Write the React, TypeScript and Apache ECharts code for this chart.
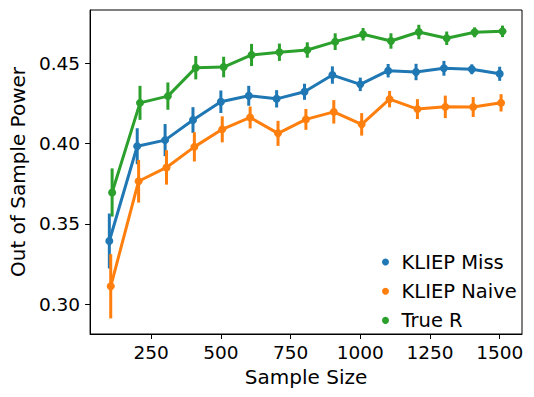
import React, { useEffect, useRef } from "react";
import * as echarts from "echarts";

const sampleSizes = [100, 200, 300, 400, 500, 600, 700, 800, 900, 1000, 1100, 1200, 1300, 1400, 1500];

const missMean = [0.3394, 0.3984, 0.4022, 0.4147, 0.4261, 0.4298, 0.4279, 0.4323, 0.4427, 0.4369, 0.4454, 0.4446, 0.4469, 0.4463, 0.4435];
const missErr = [0.0171, 0.0112, 0.0100, 0.0080, 0.0070, 0.0062, 0.0054, 0.0050, 0.0054, 0.0042, 0.0042, 0.0051, 0.0046, 0.0031, 0.0044];

const naiveMean = [0.3112, 0.3766, 0.3852, 0.3980, 0.4089, 0.4163, 0.4064, 0.4151, 0.4198, 0.4120, 0.4277, 0.4215, 0.4229, 0.4228, 0.4254];
const naiveErr = [0.0200, 0.0133, 0.0107, 0.0091, 0.0081, 0.0068, 0.0078, 0.0065, 0.0073, 0.0070, 0.0051, 0.0062, 0.0070, 0.0062, 0.0054];

const trueMean = [0.3696, 0.4254, 0.4296, 0.4473, 0.4477, 0.4552, 0.4569, 0.4583, 0.4635, 0.4681, 0.4639, 0.4695, 0.4656, 0.4693, 0.4699];
const trueErr = [0.0150, 0.0106, 0.0085, 0.0073, 0.0064, 0.0069, 0.0054, 0.0048, 0.0052, 0.0039, 0.0048, 0.0045, 0.0042, 0.0031, 0.0036];

const xTicks = [250, 500, 750, 1000, 1250, 1500];
const yTicks = [0.3, 0.35, 0.4, 0.45];

const groups = [
  { name: "KLIEP Miss", mean: missMean, err: missErr, color: "#1f77b4", dodge: 0 },
  { name: "KLIEP Naive", mean: naiveMean, err: naiveErr, color: "#ff7f0e", dodge: 5 },
  { name: "True R", mean: trueMean, err: trueErr, color: "#2ca02c", dodge: 10 },
];

const FONT = "DejaVu Sans";

export default function App() {
  const ref = useRef<HTMLDivElement>(null);
  useEffect(() => {
    if (!ref.current) return;
    const chart = echarts.init(ref.current, undefined, { renderer: "svg" });
    const series: any[] = [];
    groups.forEach((g, gi) => {
      series.push({
        type: "custom",
        name: g.name + " err",
        z: 2 + gi * 2,
        silent: true,
        data: sampleSizes.map((s, i) => [s + g.dodge, g.mean[i] - g.err[i], g.mean[i] + g.err[i]]),
        encode: { x: 0, y: [1, 2] },
        renderItem: (params: any, api: any) => {
          const p1 = api.coord([api.value(0), api.value(1)]);
          const p2 = api.coord([api.value(0), api.value(2)]);
          return {
            type: "line",
            shape: { x1: p1[0], y1: p1[1], x2: p2[0], y2: p2[1] },
            style: { stroke: g.color, lineWidth: 3 },
          };
        },
      });
      series.push({
        type: "line",
        name: g.name,
        z: 3 + gi * 2,
        data: sampleSizes.map((s, i) => [s + g.dodge, g.mean[i]]),
        symbol: "circle",
        symbolSize: 8,
        showSymbol: true,
        lineStyle: { color: g.color, width: 3 },
        itemStyle: { color: g.color },
      });
    });
    chart.setOption({
      animation: false,
      grid: {
        left: 87,
        right: 12,
        top: 10,
        bottom: 63,
        show: true,
        borderColor: "#000",
        borderWidth: 1,
        backgroundColor: "transparent",
      },
      legend: {
        data: groups.map((g) => g.name),
        orient: "vertical",
        left: 377,
        top: 247,
        icon: "circle",
        itemWidth: 22,
        itemHeight: 7,
        itemGap: 9.2,
        textStyle: { fontFamily: FONT, fontSize: 19.5, color: "#000", lineHeight: 19.5 },
      },
      xAxis: {
        type: "value",
        min: 31,
        max: 1580,
        name: "Sample Size",
        nameLocation: "middle",
        nameGap: 25,
        nameTextStyle: { fontFamily: FONT, fontSize: 20, color: "#000" },
        axisLine: { show: true, lineStyle: { color: "#000", width: 1 } },
        axisTick: { show: true, length: 5, lineStyle: { color: "#000" }, customValues: xTicks },
        axisLabel: {
          fontFamily: FONT,
          fontSize: 18.5,
          color: "#000",
          margin: 9,
          customValues: xTicks,
          formatter: (v: number) => String(v),
        },
        splitLine: { show: false },
      },
      yAxis: {
        type: "value",
        min: 0.2815,
        max: 0.4832,
        name: "Out of Sample Power",
        nameLocation: "middle",
        nameRotate: 90,
        nameGap: 59,
        nameTextStyle: { fontFamily: FONT, fontSize: 20, color: "#000" },
        axisLine: { show: true, lineStyle: { color: "#000", width: 1 } },
        axisTick: { show: true, length: 5, lineStyle: { color: "#000" }, customValues: yTicks },
        axisLabel: {
          fontFamily: FONT,
          fontSize: 18.5,
          color: "#000",
          margin: 10,
          customValues: yTicks,
          formatter: (v: number) => v.toFixed(2),
        },
        splitLine: { show: false },
      },
      series,
    });
    return () => chart.dispose();
  }, []);
  return (
    <div
      ref={ref}
      style={{ position: "fixed", left: 0, top: 0, width: 534, height: 397, background: "#fff" }}
    />
  );
}
